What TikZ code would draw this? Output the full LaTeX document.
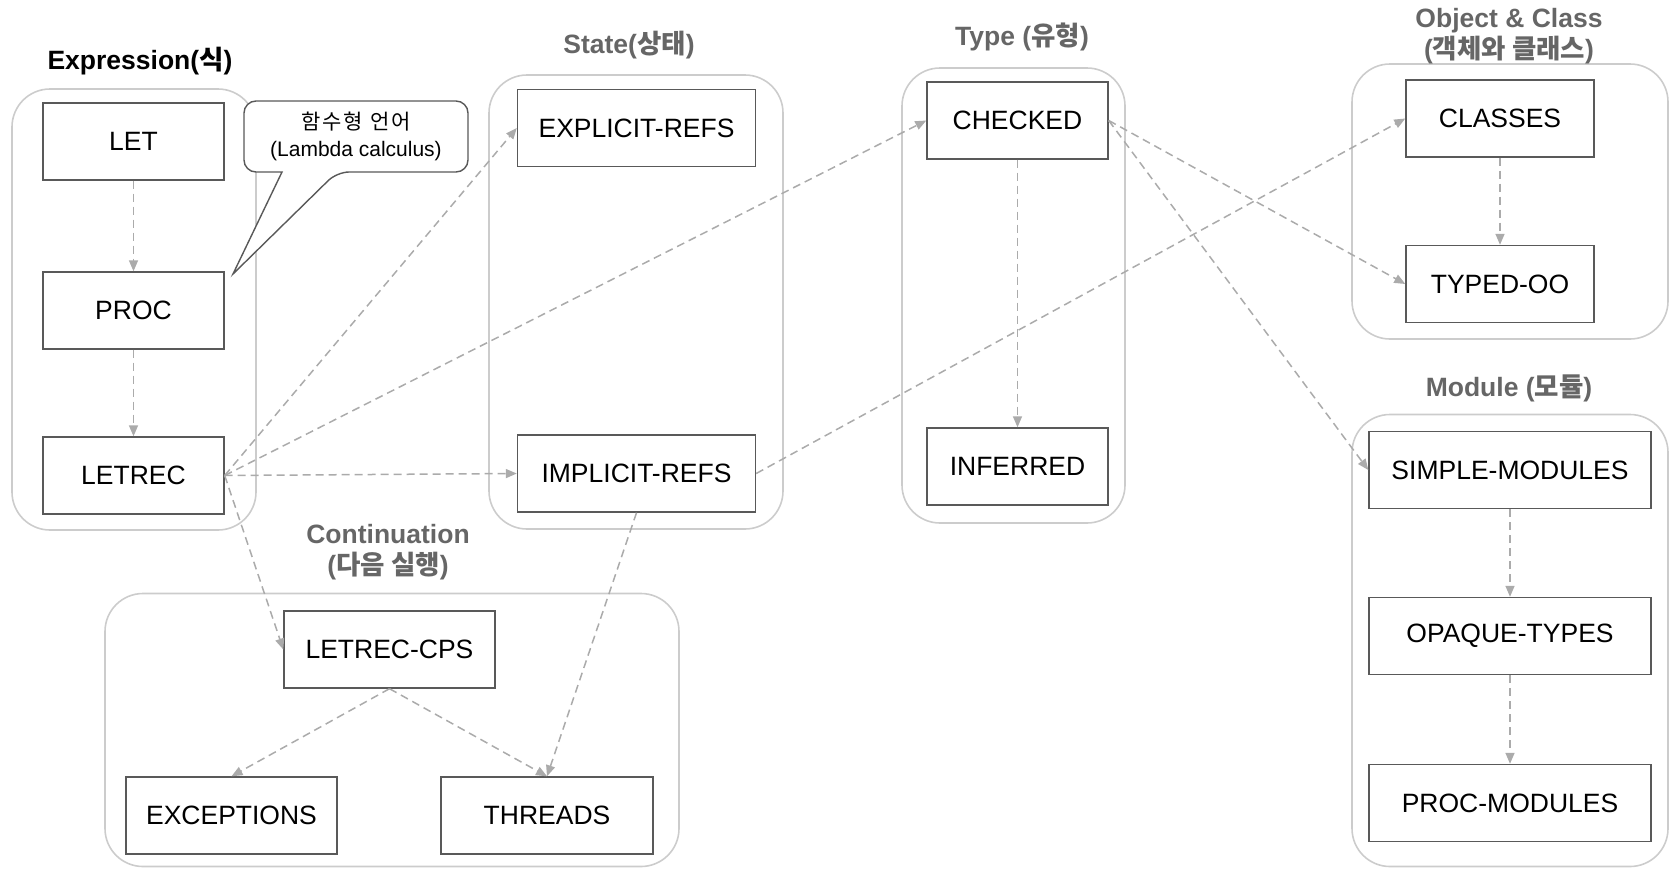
\documentclass[tikz,border=0pt]{standalone}
\usepackage{fontspec}
\setmainfont{Liberation Sans}
\newfontfamily\kr{Noto Sans CJK KR}
\usetikzlibrary{arrows.meta}
\definecolor{boxline}{HTML}{595959}
\definecolor{contline}{HTML}{CCCCCC}
\definecolor{arrowc}{HTML}{ABABAB}
\definecolor{titlec}{HTML}{666666}
\tikzset{
  stage/.style={draw=boxline, line width=1.4pt, inner sep=0pt, font=\fontsize{26.5}{30}\selectfont, text=black, minimum height=77pt},
  group/.style={draw=contline, line width=1.6pt, rounded corners=38pt, inner sep=0pt},
  grouptitle/.style={font=\bfseries\fontsize{26.5}{31}\selectfont, text=titlec, align=center, inner sep=0pt},
  link/.style={draw=arrowc, line width=1.5pt, dash pattern=on 8pt off 5pt, -{Triangle[length=11pt,width=9pt]}},
}
\begin{document}
\begin{tikzpicture}[x=1pt,y=-1pt]
\useasboundingbox (0,0) rectangle (1670,868);
% containers
\node[group, minimum width=244pt, minimum height=441pt] (gexpr) at (134,309.5) {};
\node[group, minimum width=294pt, minimum height=454pt] (gstate) at (636,302) {};
\node[group, minimum width=223pt, minimum height=455pt] (gtype) at (1013.5,295.5) {};
\node[group, minimum width=316pt, minimum height=275pt] (gobj) at (1510,201.5) {};
\node[group, minimum width=316pt, minimum height=452pt] (gmod) at (1510,640.5) {};
\node[group, minimum width=574pt, minimum height=273pt] (gcont) at (392,730) {};
% titles
\node[grouptitle, text=black] (texpr) at (140,61) {Expression({\kr 식})};
\node[grouptitle] (tstate) at (629,45) {State({\kr 상태})};
\node[grouptitle] (ttype) at (1022,37) {Type ({\kr 유형})};
\node[grouptitle] (tobj) at (1509,36) {Object \& Class\\({\kr 객체와 클래스})};
\node[grouptitle] (tmod) at (1509,388) {Module ({\kr 모듈})};
\node[grouptitle] (tcont) at (388,552) {Continuation\\({\kr 다음 실행})};
% stages
\node[stage, minimum width=181pt] (let) at (133.5,141.5) {LET};
\node[stage, minimum width=181pt] (proc) at (133.5,310.5) {PROC};
\node[stage, minimum width=181pt] (letrec) at (133.5,475.5) {LETREC};
\node[stage, minimum width=238pt] (explicit) at (636.5,128) {EXPLICIT-REFS};
\node[stage, minimum width=238pt] (implicit) at (636.5,473.5) {IMPLICIT-REFS};
\node[stage, minimum width=181pt] (checked) at (1017.5,120.5) {CHECKED};
\node[stage, minimum width=181pt] (inferred) at (1017.5,466.5) {INFERRED};
\node[stage, minimum width=188pt] (classes) at (1500,118.5) {CLASSES};
\node[stage, minimum width=188pt] (typedoo) at (1500,284) {TYPED-OO};
\node[stage, minimum width=282pt] (simple) at (1510,470) {SIMPLE-MODULES};
\node[stage, minimum width=282pt] (opaque) at (1510,636) {OPAQUE-TYPES};
\node[stage, minimum width=282pt] (procmod) at (1510,803) {PROC-MODULES};
\node[stage, minimum width=211pt] (letreccps) at (389.5,649.5) {LETREC-CPS};
\node[stage, minimum width=211pt] (exceptions) at (231.5,815.5) {EXCEPTIONS};
\node[stage, minimum width=212pt] (threads) at (547,815.5) {THREADS};
% callout
\draw[draw=boxline, line width=1.4pt, fill=white]
  (244,136) [rounded corners=12pt] -- (244,101) -- (468,101) -- (468,172) -- (337,172)
  [sharp corners] -- (233,274) -- (282,172) [rounded corners=12pt] -- (244,172) -- (244,136);
\node[align=center, inner sep=0pt, font=\fontsize{21}{27}\selectfont] (callout) at (356,136)
  {{\kr\addfontfeature{LetterSpace=10} 함수형 언어}\\(Lambda calculus)};
% links
\draw[link] (let.south) -- (proc.north);
\draw[link] (proc.south) -- (letrec.north);
\draw[link] (letrec.east) -- (explicit.west);
\draw[link] (letrec.east) -- (checked.west);
\draw[link] (letrec.east) -- (implicit.west);
\draw[link] (letrec.east) -- (letreccps.west);
\draw[link] (implicit.east) -- (classes.west);
\draw[link] (implicit.south) -- (threads.north);
\draw[link] (letreccps.south) -- (exceptions.north);
\draw[link] (letreccps.south) -- (threads.north);
\draw[link] (checked.south) -- (inferred.north);
\draw[link] (checked.east) -- (typedoo.west);
\draw[link] (checked.east) -- (simple.west);
\draw[link] (classes.south) -- (typedoo.north);
\draw[link] (simple.south) -- (opaque.north);
\draw[link] (opaque.south) -- (procmod.north);
\end{tikzpicture}
\end{document}
